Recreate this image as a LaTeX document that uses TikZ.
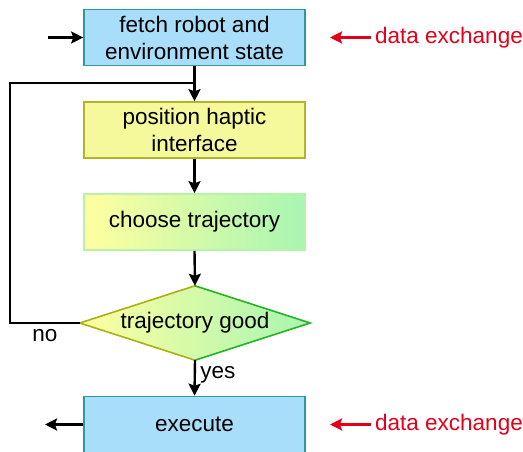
\documentclass[tikz,border=0pt]{standalone}
\usepackage{fontspec}
\setmainfont{Liberation Sans}
\usetikzlibrary{arrows.meta,shapes.geometric}
\definecolor{boxblue}{HTML}{A8DEF9}
\definecolor{edgeblue}{HTML}{2A9A9C}
\definecolor{boxyellow}{HTML}{F6F89C}
\definecolor{edgeyellow}{HTML}{B4B42A}
\definecolor{lightyellow}{HTML}{FFFFA0}
\definecolor{lightgreen}{HTML}{A8F5B2}
\definecolor{edgegreen}{HTML}{B6F2A8}
\definecolor{diaolive}{HTML}{A8B014}
\definecolor{diagreen}{HTML}{22B422}
\definecolor{dxred}{HTML}{E2001A}
\tikzset{
  stepbox/.style={rectangle,minimum width=221pt,minimum height=56pt,
    inner sep=0pt,align=center,line width=1.6pt},
  flow/.style={line width=2.4pt,-{Stealth[length=12pt,width=12pt,inset=2pt]}},
  dxarrow/.style={dxred,line width=2.4pt,-{Stealth[length=12pt,width=12pt,inset=2pt]}}
}
\begin{document}
\begin{tikzpicture}[x=1pt,y=-1pt,font=\fontsize{22.5}{27}\selectfont]
        \useasboundingbox (0,0) rectangle (523,452);
        \node[stepbox,draw=edgeblue,fill=boxblue] (fetch) at (194.5,37.5)
            {fetch robot and\\environment state};
        \node[stepbox,draw=edgeyellow,fill=boxyellow] (haptic) at (194.5,130)
            {position haptic\\interface};
        \node[stepbox,draw=edgegreen,left color=lightyellow,right color=lightgreen]
            (choose) at (194.5,222) {choose trajectory};
        \node[diamond,aspect=3.1,inner sep=0pt,minimum width=230pt,minimum height=74pt,
            left color=lightyellow,right color=lightgreen]
            (good) at (195,323) {trajectory good};
        \draw[diaolive,line width=1.6pt,line join=miter]
            (good.north) -- (good.west) -- (good.south);
        \draw[diagreen,line width=1.6pt,line join=miter]
            (good.north) -- (good.east) -- (good.south);
        \node[stepbox,draw=edgeblue,fill=boxblue] (execute) at (194.5,424.5) {execute};
        \coordinate (in) at (48,37.5);
        \coordinate (out) at (45,424.5);
        \coordinate (join) at (195,83);
        \draw[flow] (in) -- (fetch.west);
        \draw[flow] (fetch.south) -- (haptic.north);
        \draw[flow] (haptic.south) -- (choose.north);
        \draw[flow] (choose.south) -- (good.north);
        \draw[flow] (good.south) -- node[right=1pt,pos=0.42] {yes} (execute.north);
        \draw[line width=2.4pt] (good.west) -- (10,323) -- (10,83) -- (join);
        \node (no) at (45,336) {no};
        \draw[flow] (execute.west) -- (out);
        \foreach \y/\name in {37.5/dxa,424.5/dxb} {
            \node[dxred,anchor=west,inner sep=0pt] (\name) at (375,\y) {data exchange};
            \coordinate (\name tip) at (330,\y);
            \draw[dxarrow] (\name.west) ++(-4,0) -- (\name tip);
        }
\end{tikzpicture}
\end{document}
